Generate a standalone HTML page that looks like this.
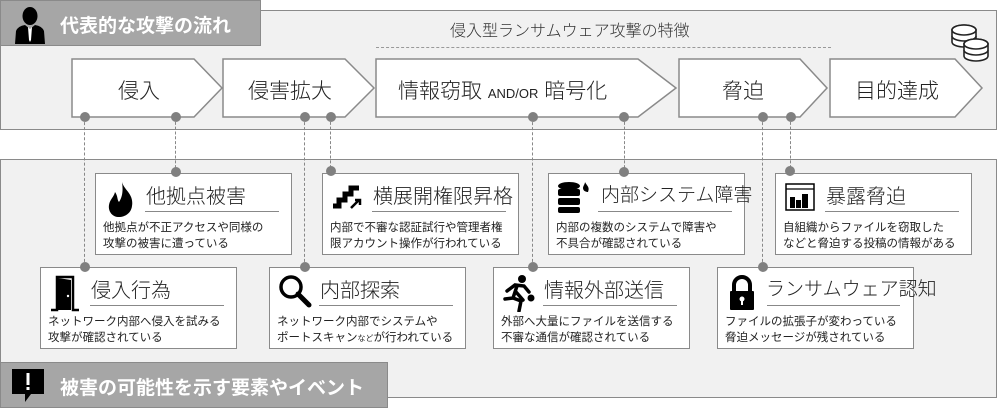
<!DOCTYPE html>
<html><head><meta charset="utf-8"><style>
*{margin:0;padding:0;box-sizing:border-box}
body{width:999px;height:412px;background:#fff;position:relative;overflow:hidden;font-family:"Liberation Sans","Noto Sans CJK JP",sans-serif;color:#222}
.abs{position:absolute}
.panel{position:absolute;background:#f1f1f1;border:1.5px solid #8a8a8a}
.hdr{position:absolute;background:#a6a6a6;border:1.5px solid #8a8a8a;color:#fff;font-weight:bold;font-size:19px}
.box{position:absolute;background:#fff;border:1.5px solid #8a8a8a;width:197px;height:82px}
.box .t{position:absolute;left:50px;top:6px;font-size:20px;color:#222;white-space:nowrap;font-weight:300}
.box .u{position:absolute;left:49px;top:37px;width:134px;border-top:1.5px solid #888}
.box .d{position:absolute;left:7px;top:46px;font-size:11.5px;line-height:16px;color:#222;white-space:nowrap}
.box svg{position:absolute;left:8px;top:6px}
.dash{position:absolute;border-left:1.5px dashed #888;width:0}
.dot{position:absolute;width:10px;height:10px;border-radius:50%;background:#808080;margin:-5px 0 0 -5px}
.chev{position:absolute;font-size:21px;color:#222;white-space:nowrap;font-weight:300}
</style></head><body>

<div class="panel" style="left:0;top:10px;width:997px;height:120px"></div>
<div class="panel" style="left:0;top:159px;width:997px;height:239px"></div>

<div class="hdr" style="left:0;top:0;width:261px;height:46px">
<svg class="abs" style="left:13px;top:5px" width="32" height="38" viewBox="0 0 32 38"><ellipse cx="16" cy="10" rx="7.5" ry="9" fill="#000"/><path d="M1 38 L2 25 Q4 20 11 19 L16 23 L21 19 Q28 20 30 25 L31 38Z" fill="#000"/><path d="M14 21 L16 23 L18 21 L17 34 L16 36 L15 34Z" fill="#fff"/></svg>
<span class="abs" style="left:59px;top:10px">代表的な攻撃の流れ</span></div>

<div class="abs" style="left:450px;top:17px;font-size:16px;color:#333;font-weight:300">侵入型ランサムウェア攻撃の特徴</div>
<div class="abs" style="left:376px;top:47px;width:455px;border-top:1.5px dashed #999"></div>

<svg class="abs" style="left:948px;top:22px" width="45" height="40" viewBox="0 0 45 40" fill="#fff" stroke="#222" stroke-width="1.6">
<path d="M4 20 v-12 a12 5 0 0 1 24 0 v12 a12 5 0 0 1 -24 0Z"/><ellipse cx="16" cy="8" rx="12" ry="5"/><path d="M4 14 a12 5 0 0 0 24 0"/>
<path d="M16 34 v-12 a12 5 0 0 1 24 0 v12 a12 5 0 0 1 -24 0Z"/><ellipse cx="28" cy="22" rx="12" ry="5"/><path d="M16 28 a12 5 0 0 0 24 0"/>
</svg>

<svg class="abs" style="left:0;top:0" width="999" height="130">
<g fill="#fff" stroke="#8a8a8a" stroke-width="1.5">
<polygon points="72,59 194,59 222,88 194,117 72,117"/>
<polygon points="223,59 345,59 374,88 345,117 223,117"/>
<polygon points="376,59 638,59 676,88 638,117 376,117"/>
<polygon points="679,59 800,59 827,88 800,117 679,117"/>
<polygon points="830,59 955,59 982,88 955,117 830,117"/>
</g></svg>
<div class="chev" style="left:118px;top:75px">侵入</div>
<div class="chev" style="left:248px;top:75px">侵害拡大</div>
<div class="chev" style="left:398px;top:75px">情報窃取 <span style="font-size:13px">AND/OR</span> 暗号化</div>
<div class="chev" style="left:722px;top:75px">脅迫</div>
<div class="chev" style="left:855px;top:75px">目的達成</div>

<div class="dash" style="left:84px;top:117px;height:150px"></div>
<div class="dash" style="left:175px;top:117px;height:56px"></div>
<div class="dash" style="left:304px;top:117px;height:150px"></div>
<div class="dash" style="left:330px;top:117px;height:56px"></div>
<div class="dash" style="left:532px;top:117px;height:150px"></div>
<div class="dash" style="left:624px;top:117px;height:56px"></div>
<div class="dash" style="left:762px;top:117px;height:150px"></div>
<div class="dash" style="left:790px;top:117px;height:56px"></div>

<div class="box" style="left:95px;top:173px"><svg width="34" height="38" viewBox="0 0 34 38"><path d="M18 2 C20 10 30 14 28 26 C27 34 20 37 15 37 C8 37 4 31 5 25 C6 19 10 17 11 12 C14 16 13 20 15 22 C19 16 19 9 18 2Z" fill="#000"/></svg><div class="t">他拠点被害</div><div class="u"></div><div class="d">他拠点が不正アクセスや同様の<br>攻撃の被害に遭っている</div></div>

<div class="box" style="left:322px;top:173px"><svg width="34" height="34" viewBox="0 0 34 34"><path d="M2 26 h6 v-6 h6 v-6 h6 v-6 h8" fill="none" stroke="#000" stroke-width="5"/><path d="M20 28 l8 -8 M24 20 h5 v5" fill="none" stroke="#000" stroke-width="2.5"/></svg><div class="t">横展開権限昇格</div><div class="u"></div><div class="d">内部で不審な認証試行や管理者権<br>限アカウント操作が行われている</div></div>

<div class="box" style="left:548px;top:173px"><svg width="34" height="34" viewBox="0 0 34 34"><ellipse cx="12" cy="6" rx="11" ry="4" fill="#000"/><rect x="1" y="9" width="22" height="7" rx="2" fill="#000"/><rect x="1" y="18" width="22" height="7" rx="2" fill="#000"/><rect x="1" y="27" width="22" height="6" rx="2" fill="#000"/><path d="M28 2 C30 6 33 7 31 12 C29 12 26 11 26 8 C26 6 28 4 28 2Z" fill="#000"/></svg><div class="t" style="left:52px;font-size:19px">内部システム障害</div><div class="u"></div><div class="d">内部の複数のシステムで障害や<br>不具合が確認されている</div></div>

<div class="box" style="left:775px;top:173px"><svg width="34" height="34" viewBox="0 0 34 34"><rect x="2" y="4" width="28" height="26" fill="#fff" stroke="#000" stroke-width="1.5"/><line x1="2" y1="9" x2="30" y2="9" stroke="#000" stroke-width="1.2"/><rect x="6" y="17" width="5" height="11" fill="#000"/><rect x="12" y="20" width="5" height="8" fill="#000"/><rect x="18" y="14" width="6" height="14" fill="#000"/></svg><div class="t">暴露脅迫</div><div class="u"></div><div class="d">自組織からファイルを窃取した<br>などと脅迫する投稿の情報がある</div></div>

<div class="box" style="left:40px;top:267px"><svg width="34" height="38" viewBox="0 0 34 38"><path d="M2 36 h6 V3 h16 v33 h6" fill="none" stroke="#000" stroke-width="2.5"/><path d="M9 4 L22 6 V36 L9 36Z" fill="#000"/><circle cx="19" cy="22" r="1.2" fill="#fff"/></svg><div class="t">侵入行為</div><div class="u"></div><div class="d">ネットワーク内部へ侵入を試みる<br>攻撃が確認されている</div></div>

<div class="box" style="left:269px;top:267px"><svg width="36" height="36" viewBox="0 0 36 36"><circle cx="13" cy="13" r="10" fill="none" stroke="#000" stroke-width="3.5"/><path d="M20 20 L31 31" stroke="#000" stroke-width="5" stroke-linecap="round"/></svg><div class="t">内部探索</div><div class="u"></div><div class="d">ネットワーク内部でシステムや<br>ポートスキャン<span style="font-size:8px">など</span>が行われている</div></div>

<div class="box" style="left:493px;top:267px"><svg width="34" height="38" viewBox="0 0 34 38"><circle cx="20" cy="5" r="4" fill="#000"/><path d="M5 17 L13 11 L22 12 L27 18 M15 12 L11 24 L3 25 M11 24 L19 27 L17 37 M14 18 L21 26" fill="none" stroke="#000" stroke-width="3.5" stroke-linecap="round"/><circle cx="29" cy="24" r="3.5" fill="#000"/></svg><div class="t">情報外部送信</div><div class="u"></div><div class="d">外部へ大量にファイルを送信する<br>不審な通信が確認されている</div></div>

<div class="box" style="left:717px;top:267px"><svg width="34" height="38" viewBox="0 0 34 38"><path d="M8 17 V11 a8 8 0 0 1 16 0 V17" fill="none" stroke="#000" stroke-width="4"/><rect x="4" y="17" width="24" height="19" rx="1" fill="#000"/><circle cx="16" cy="25" r="2.5" fill="#fff"/><rect x="15" y="25" width="2" height="6" fill="#fff"/></svg><div class="t" style="left:48px;font-size:19px">ランサムウェア認知</div><div class="u" style="left:49px;width:133px"></div><div class="d">ファイルの拡張子が変わっている<br>脅迫メッセージが残されている</div></div>

<div class="dot" style="left:85px;top:117px"></div><div class="dot" style="left:176px;top:117px"></div>
<div class="dot" style="left:305px;top:117px"></div><div class="dot" style="left:331px;top:117px"></div>
<div class="dot" style="left:533px;top:117px"></div><div class="dot" style="left:624px;top:117px"></div>
<div class="dot" style="left:763px;top:117px"></div><div class="dot" style="left:791px;top:117px"></div>
<div class="dot" style="left:176px;top:172px"></div><div class="dot" style="left:331px;top:171px"></div>
<div class="dot" style="left:624px;top:172px"></div><div class="dot" style="left:790px;top:171px"></div>
<div class="dot" style="left:85px;top:267px"></div><div class="dot" style="left:305px;top:267px"></div>
<div class="dot" style="left:533px;top:267px"></div><div class="dot" style="left:763px;top:267px"></div>

<div class="hdr" style="left:0;top:362px;width:388px;height:46px">
<svg class="abs" style="left:10px;top:5px" width="34" height="36" viewBox="0 0 34 36"><path d="M1 1 H33 V26 H20 L14 34 V26 H1Z" fill="#000"/><rect x="15.5" y="5" width="3" height="12" fill="#fff"/><rect x="15.5" y="19" width="3" height="3" fill="#fff"/></svg>
<span class="abs" style="left:59px;top:10px">被害の可能性を示す要素やイベント</span></div>
</body></html>
